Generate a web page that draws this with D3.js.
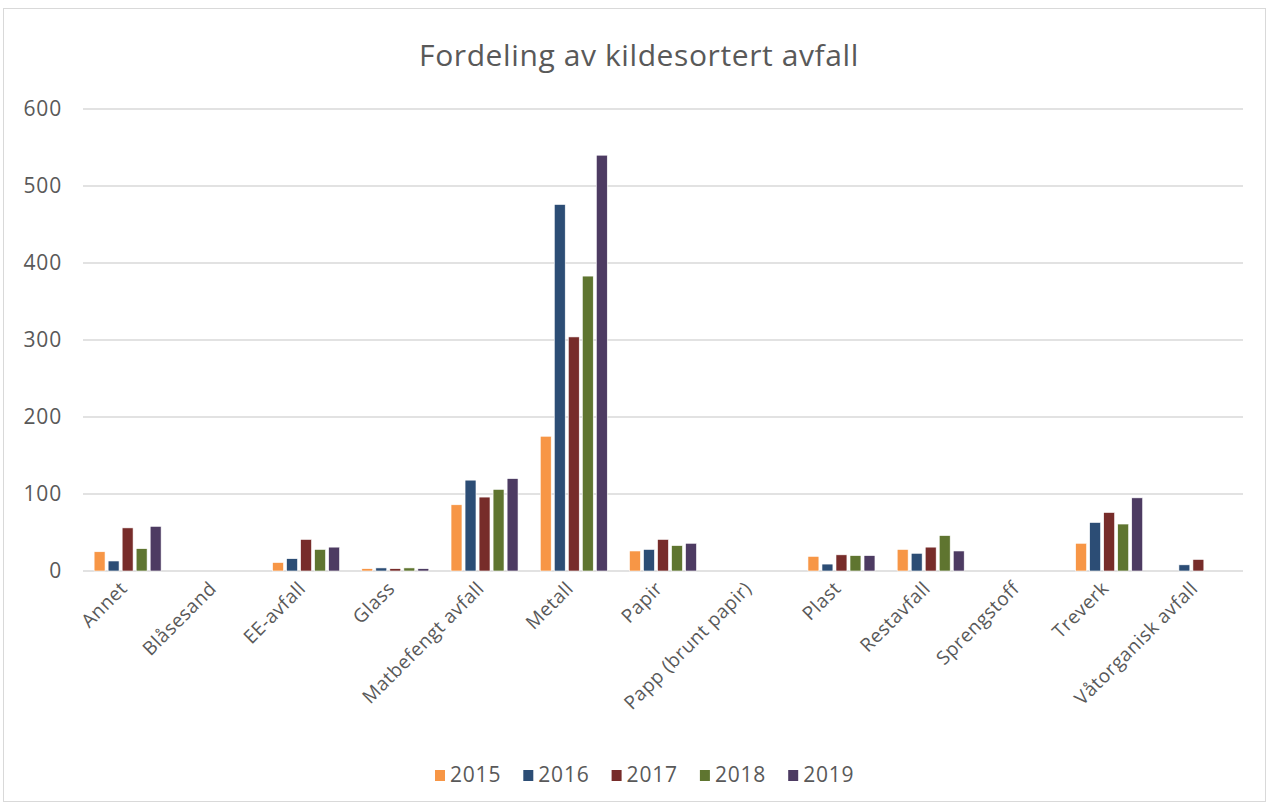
<!DOCTYPE html>
<html><head><meta charset="utf-8">
<script src="https://cdn.jsdelivr.net/npm/d3@7"></script>
<style>body{margin:0;background:#fff;} text{font-family:"Open Sans",sans-serif;}</style>
</head><body>
<svg id="c" width="1268" height="806"></svg>
<script>
const categories = ["Annet","Blåsesand","EE-avfall","Glass","Matbefengt avfall","Metall","Papir","Papp (brunt papir)","Plast","Restavfall","Sprengstoff","Treverk","Våtorganisk avfall"];
const years = ["2015","2016","2017","2018","2019"];
const v2015 = [25, 0, 11, 3, 86, 175, 26, 0, 19, 28, 0, 36, 0];
const v2016 = [13, 0, 16, 4, 118, 476, 28, 0, 9, 23, 0, 63, 8];
const v2017 = [56, 0, 41, 3, 96, 304, 41, 0, 21, 31, 0, 76, 15];
const v2018 = [29, 0, 28, 4, 106, 383, 33, 0, 20, 46, 0, 61, 0];
const v2019 = [58, 0, 31, 3, 120, 540, 36, 0, 20, 26, 0, 95, 0];
const series = [v2015, v2016, v2017, v2018, v2019];
const colors = ["#F79646","#2C4D75","#772C2A","#5F7530","#4D3B62"];
const yTicks = [0,100,200,300,400,500,600];
const title = "Fordeling av kildesortert avfall";

const svg = d3.select("#c");
const L = 83, R = 1243, T = 109, B = 571;

svg.append("rect").attr("x",3.5).attr("y",8.5).attr("width",1262).attr("height",793)
  .attr("fill","#fff").attr("stroke","#d9d9d9").attr("stroke-width",1);

svg.append("text").attr("x",639).attr("y",66).attr("text-anchor","middle")
  .attr("font-size",30).attr("letter-spacing",0.6).attr("fill","#595959").text(title);

const y = d3.scaleLinear().domain([0,600]).range([B,T]);
const x = d3.scaleBand().domain(categories).range([L,R]).paddingInner(0).paddingOuter(0);
const groupW = 67;
const x1 = d3.scaleBand().domain(years).range([0,groupW]).paddingInner(0.22).paddingOuter(0);

// gridlines
svg.append("g").selectAll("line").data(yTicks).join("line")
  .attr("x1",L).attr("x2",R).attr("y1",d=>y(d)).attr("y2",d=>y(d))
  .attr("stroke","#d9d9d9").attr("stroke-width",1.5);

// y axis labels
const yAxis = d3.axisLeft(y).tickValues(yTicks).tickSize(0).tickPadding(0);
const gy = svg.append("g").attr("transform",`translate(62,0)`).call(yAxis);
gy.select(".domain").remove();
gy.selectAll("text").attr("font-size",21).attr("letter-spacing",0.8).attr("fill","#595959").attr("font-family","'Open Sans',sans-serif");

// bars
const gBars = svg.append("g");
series.forEach((vals,si)=>{
  gBars.append("g").selectAll("rect").data(vals.map((v,i)=>({c:categories[i],v}))).join("rect")
    .filter(d=>d.v>0)
    .attr("x",d=>x(d.c)+(x.bandwidth()-groupW)/2+x1(years[si]))
    .attr("y",d=>y(d.v))
    .attr("width",x1.bandwidth())
    .attr("height",d=>B-y(d.v))
    .attr("fill",colors[si])
    .attr("stroke","#fff").attr("stroke-width",0.6);
});

// x axis labels
const xAxis = d3.axisBottom(x).tickSize(0).tickPadding(0);
const gx = svg.append("g").attr("transform",`translate(0,${B})`).call(xAxis);
gx.select(".domain").remove();
gx.selectAll("text")
  .attr("font-size",19).attr("letter-spacing",0.5).attr("fill","#595959").attr("font-family","'Open Sans',sans-serif")
  .attr("text-anchor","end").attr("dy","0.35em")
  .attr("transform","translate(-4,14) rotate(-45)");

// legend
const lg = svg.append("g");
years.forEach((yr,i)=>{
  const lx = 435 + i*88.3;
  lg.append("rect").attr("x",lx).attr("y",770).attr("width",10).attr("height",11).attr("fill",colors[i]);
  lg.append("text").attr("x",lx+15).attr("y",782).attr("font-size",21).attr("letter-spacing",0.8).attr("fill","#595959").text(yr);
});
</script>
</body></html>
